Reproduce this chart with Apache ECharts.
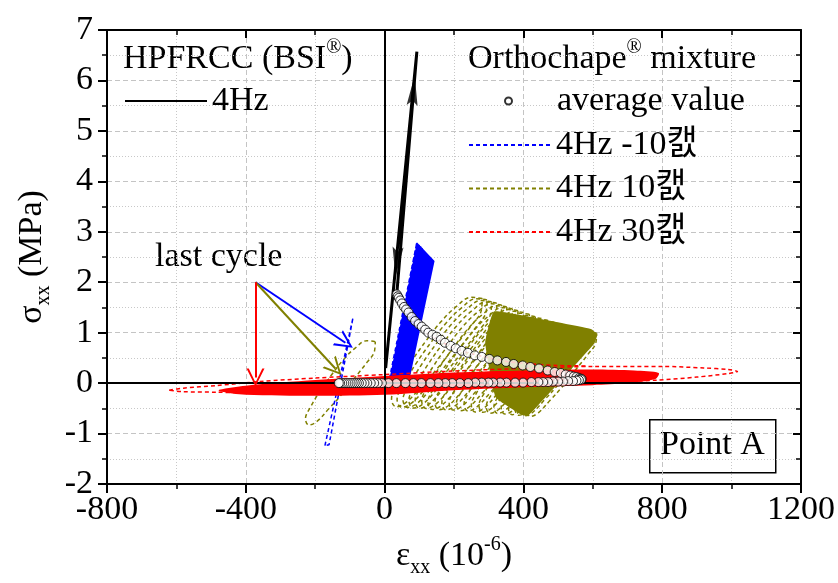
<!DOCTYPE html>
<html>
<head>
<meta charset="utf-8">
<script src="https://cdn.jsdelivr.net/npm/echarts@6/dist/echarts.min.js"></script>
<style>html,body{margin:0;padding:0;background:#fff}#main{width:838px;height:583px}</style>
</head>
<body>
<div id="main"></div>
<script>
// strain in 1e-6, stress in MPa
var FONT = "'Liberation Serif', 'Times New Roman', 'Noto Sans CJK KR', serif";
var BLUE = '#0000ff', OLIVE = '#808000', RED = '#ff0000';

// HPFRCC 4Hz (load up, unload back)
var hpEps = [3, 93, 35];
var hpSig = [0.30, 6.57, 1.76];

// average values: upper branch then lower branch
var avgUpEps = [35, 38, 41, 45, 50, 56, 62, 69, 78, 88, 98, 107, 117, 126, 138, 150, 162, 174, 190, 205, 222, 240, 260, 280, 302, 325, 350, 372, 398, 420, 445, 470, 490, 508, 522, 535, 545, 553, 560, 565, 568];
var avgUpSig = [1.76, 1.72, 1.69, 1.64, 1.58, 1.51, 1.46, 1.40, 1.31, 1.23, 1.17, 1.12, 1.06, 1.00, 0.96, 0.92, 0.86, 0.80, 0.74, 0.69, 0.64, 0.60, 0.55, 0.52, 0.48, 0.45, 0.42, 0.38, 0.35, 0.32, 0.29, 0.25, 0.22, 0.20, 0.17, 0.15, 0.13, 0.12, 0.10, 0.09, 0.08];
var avgLowEps = [566, 560, 553, 543, 529, 514, 500, 485, 471, 457, 443, 423, 399, 376, 351, 333, 313, 299, 280, 261, 241, 217, 195, 175, 155, 132, 106, 83, 60, 34, 11, -8, -20, -30, -40, -50, -58, -66, -74, -80, -86, -92, -98, -104, -110, -116, -122, -128, -132];
var avgLowSig = [0.07, 0.06, 0.05, 0.04, 0.04, 0.03, 0.03, 0.03, 0.02, 0.02, 0.02, 0.02, 0.01, 0.01, 0.01, 0.01, 0.01, 0.01, 0.01, 0.01, 0.0, 0.0, 0.0, 0.0, 0.0, 0.0, 0.0, 0.0, 0.0, 0.0, 0.0, 0.0, 0.0, 0.0, 0.0, 0.0, 0.0, 0.0, 0.0, 0.0, 0.0, 0.0, 0.0, 0.0, 0.0, 0.0, 0.0, 0.0, 0.0];

// -10C : dense band outline, first thin loops (bottom eps, top eps, top sig), last cycle
var blueBandEps = [10, 93, 144, 68];
var blueBandSig = [-0.05, 2.79, 2.42, -0.05];
var blueLoopBotEps = [10, 13, 17, 21, 25];
var blueLoopTopEps = [93, 96, 100, 104, 108];
var blueLoopTopSig = [2.79, 2.77, 2.74, 2.71, 2.68];
var blueLastEps = [-172, -91, -86, -160, -172];
var blueLastSig = [-1.24, 1.30, 1.28, -1.22, -1.24];

// 10C : last cycle ellipse, earlier cycles (centre eps, centre sig, size), dense band outline
var olivLastEps = [-27, -51, -84, -118, -151, -185, -214, -228, -218, -195, -161, -127, -89, -51, -29, -27];
var olivLastSig = [0.82, 0.84, 0.70, 0.47, 0.18, -0.15, -0.48, -0.71, -0.83, -0.76, -0.51, -0.25, 0.08, 0.41, 0.64, 0.82];
var olivCycEps = [150, 165, 180, 196, 212, 229, 246, 264, 282, 301, 320, 340, 360, 380, 400, 420, 440, 460, 478, 495, 510];
var olivCycSig = [0.61, 0.59, 0.57, 0.55, 0.53, 0.51, 0.48, 0.46, 0.44, 0.42, 0.39, 0.37, 0.34, 0.32, 0.29, 0.27, 0.25, 0.23, 0.21, 0.19, 0.17];
var olivCycSize = [1.30, 1.29, 1.27, 1.26, 1.24, 1.22, 1.21, 1.19, 1.17, 1.15, 1.13, 1.11, 1.10, 1.08, 1.07, 1.05, 1.04, 1.03, 1.02, 1.01, 1.00];
var olivBandEps = [315, 450, 596, 613, 604, 414, 395, 320, 290];
var olivBandSig = [1.42, 1.27, 1.07, 0.96, 0.78, -0.65, -0.63, -0.28, 0.80];

// 30C : dense band outline, outer (last) ellipse, first loading path
var redBandEps = [-477, -400, -200, 0, 200, 400, 600, 720, 790, 780, 700, 600, 400, 200, 0, -200, -400, -477];
var redBandSig = [-0.13, -0.05, 0.06, 0.14, 0.21, 0.25, 0.27, 0.25, 0.20, 0.08, 0.00, -0.04, -0.08, -0.14, -0.23, -0.25, -0.23, -0.16];
var redOuterEps = [-621, -580, -486, -362, -200, 0, 200, 400, 600, 800, 920, 990, 1017, 990, 900, 787, 600, 400, 200, 0, -200, -400, -486, -582, -621];
var redOuterSig = [-0.14, -0.10, -0.05, 0.03, 0.10, 0.17, 0.24, 0.29, 0.33, 0.33, 0.30, 0.27, 0.23, 0.19, 0.12, 0.06, 0.00, -0.06, -0.11, -0.15, -0.18, -0.19, -0.18, -0.17, -0.14];
var redFirstEps = [120, 150, 213, 294, 352, 420, 500, 580];
var redFirstSig = [1.00, 0.87, 0.66, 0.51, 0.43, 0.38, 0.35, 0.34];

// "last cycle" arrows: start point and the three ends
var lastFrom = [-372, 2.0];
var lastToBlue = [-113, 0.80];
var lastToOlive = [-142, 0.29];
var lastToRed = [-372, 0.11];

function pairs(xs, ys) {
  return xs.map(function (x, i) { return [x, ys[i]]; });
}

var DASH = [4, 3];
function loop(name, data, color, z, smooth) {
  return {
    name: name, type: 'line', data: data, z: z, smooth: smooth || 0,
    showSymbol: false, symbol: 'none', silent: true, animation: false,
    lineStyle: { color: color, width: 1.5, type: DASH }, itemStyle: { color: color }
  };
}
function band(eps, sig, color, z, smooth) {
  var pts = pairs(eps, sig);
  return {
    type: 'custom', z: z, silent: true, animation: false,
    data: [[0, 0]],
    renderItem: function (params, api) {
      return {
        type: 'polygon',
        shape: { points: pts.map(function (p) { return api.coord(p); }), smooth: smooth || 0 },
        style: { fill: color }
      };
    }
  };
}

var series = [];

// zero lines
series.push({
  type: 'line', data: [], z: 1, silent: true,
  markLine: {
    silent: true, symbol: 'none', animation: false, label: { show: false },
    lineStyle: { color: '#000', width: 2, type: 'solid' },
    data: [{ xAxis: 0 }, { yAxis: 0 }]
  }
});

// 10C
var olivCentre = [-128, 0.0];
olivCycEps.forEach(function (ce, k) {
  var s = olivCycSize[k];
  var d = olivLastEps.map(function (e, i) {
    return [ce + (e - olivCentre[0]) * s, olivCycSig[k] + (olivLastSig[i] - olivCentre[1]) * s];
  });
  series.push(loop('4Hz 10캜', d, OLIVE, 2, 0.4));
});
series.push(band(olivBandEps, olivBandSig, OLIVE, 2, 0.1));
series.push(loop('4Hz 10캜', pairs(olivLastEps, olivLastSig), OLIVE, 2, 0.4));

// -10C
series.push(band(blueBandEps, blueBandSig, BLUE, 3, 0));
blueLoopBotEps.forEach(function (b, k) {
  series.push(loop('4Hz -10캜', [[b, -0.05], [blueLoopTopEps[k], blueLoopTopSig[k]], [blueLoopTopEps[k] + 3, blueLoopTopSig[k] - 0.03], [b + 5, -0.05]], BLUE, 3));
});
series.push(loop('4Hz -10캜', pairs(blueLastEps, blueLastSig), BLUE, 3));

// 30C
series.push(band(redBandEps, redBandSig, RED, 4, 0.3));
series.push(loop('4Hz 30캜', pairs(redOuterEps, redOuterSig), RED, 4, 0.3));
series.push(loop('4Hz 30캜', pairs(redFirstEps, redFirstSig), RED, 4, 0.3));

// HPFRCC
series.push({
  name: '4Hz', type: 'line', data: pairs(hpEps, hpSig), z: 6, silent: true,
  showSymbol: false, symbol: 'none', animation: false,
  lineStyle: { color: '#000', width: 3 }, itemStyle: { color: '#000' }
});
// arrow heads on the HPFRCC line
series.push({
  type: 'scatter', z: 6, silent: true, animation: false,
  symbol: 'path://M5,0 L10,30 L5,25 L0,30 Z', symbolSize: [11, 30],
  itemStyle: { color: '#000' },
  data: [
    { value: [83, 5.8], symbolRotate: -5 },
    { value: [35, 2.4], symbolRotate: 175 }
  ]
});

// average value
series.push({
  name: 'average value', type: 'scatter', z: 7, silent: true, animation: false,
  data: pairs(avgUpEps, avgUpSig).concat(pairs(avgLowEps, avgLowSig)),
  symbol: 'circle', symbolSize: 9,
  itemStyle: { color: '#fff', borderColor: '#000', borderWidth: 1 }
});

// last cycle arrows
var chevron = 'path://M0,22 L10,0 L20,22 L17.5,22 L10,5 L2.5,22 Z';
function arrow(to, color) {
  return [{ coord: lastFrom, lineStyle: { color: color } }, { coord: to }];
}
series.push({
  type: 'line', data: [], z: 8, silent: true,
  markLine: {
    silent: true, animation: false, symbol: ['none', chevron], symbolSize: 18,
    label: { show: false },
    lineStyle: { width: 2, type: 'solid' },
    data: [arrow(lastToBlue, BLUE), arrow(lastToOlive, OLIVE), arrow(lastToRed, RED)]
  }
});

var subRich = {
  g: { fontFamily: FONT, fontSize: 34, color: '#000' },
  s: { fontFamily: FONT, fontSize: 20, color: '#000', padding: [24, 0, 0, 0] },
  p: { fontFamily: FONT, fontSize: 20, color: '#000', padding: [0, 0, 22, 0] },
  t: { fontFamily: FONT, fontSize: 34, color: '#000' }
};
var gridLine = { show: true, lineStyle: { color: '#c4c4c4', type: [5, 3], width: 1 } };
var minorGrid = { show: true, lineStyle: { color: '#c8c8c8', type: [1, 2], width: 1 } };
var legendText = { fontFamily: FONT, fontSize: 34, color: '#000', lineHeight: 34 };

var option = {
  backgroundColor: '#fff',
  animation: false,
  grid: { left: 107, right: 35, top: 30, bottom: 98 },
  xAxis: [{
    type: 'value', min: -800, max: 1200, interval: 400,
    name: '{g|ε}{s|xx}{t| (10}{p|-6}{t|)}', nameLocation: 'middle', nameGap: 50,
    nameTextStyle: { rich: subRich },
    axisLine: { show: true, onZero: false, lineStyle: { color: '#000', width: 2 } },
    axisTick: { show: true, inside: false, length: 9, lineStyle: { color: '#000', width: 2 } },
    minorTick: { show: true, splitNumber: 2, length: 5, lineStyle: { color: '#000', width: 1.5 } },
    axisLabel: { fontFamily: FONT, fontSize: 34, color: '#000', margin: 9, formatter: function (v) { return String(v); } },
    splitLine: gridLine, minorSplitLine: minorGrid
  }, {
    type: 'value', position: 'top', min: -800, max: 1200, interval: 400,
    axisLine: { show: true, onZero: false, lineStyle: { color: '#000', width: 2 } },
    axisTick: { show: true, inside: true, length: 8, lineStyle: { color: '#000', width: 2 } },
    minorTick: { show: true, splitNumber: 2, length: 5, lineStyle: { color: '#000', width: 1.5 } },
    axisLabel: { show: false }, splitLine: { show: false }
  }],
  yAxis: [{
    type: 'value', min: -2, max: 7, interval: 1,
    name: '{g|σ}{s|xx}{t| (MPa)}', nameLocation: 'middle', nameGap: 50, nameRotate: 90,
    nameTextStyle: { rich: subRich },
    axisLine: { show: true, onZero: false, lineStyle: { color: '#000', width: 2 } },
    axisTick: { show: true, inside: false, length: 9, lineStyle: { color: '#000', width: 2 } },
    minorTick: { show: true, splitNumber: 2, length: 5, lineStyle: { color: '#000', width: 1.5 } },
    axisLabel: { fontFamily: FONT, fontSize: 34, color: '#000', margin: 14 },
    splitLine: gridLine, minorSplitLine: minorGrid
  }, {
    type: 'value', position: 'right', min: -2, max: 7, interval: 1,
    axisLine: { show: true, onZero: false, lineStyle: { color: '#000', width: 2 } },
    axisTick: { show: true, inside: true, length: 8, lineStyle: { color: '#000', width: 2 } },
    minorTick: { show: true, splitNumber: 2, length: 5, lineStyle: { color: '#000', width: 1.5 } },
    axisLabel: { show: false }, splitLine: { show: false }
  }],
  legend: [{
    data: ['4Hz'], left: 119, top: 79, itemWidth: 82, itemHeight: 14, selectedMode: false,
    itemStyle: { opacity: 0 }, textStyle: legendText
  }, {
    data: ['average value'], left: 499, top: 79, itemWidth: 7, itemHeight: 7, selectedMode: false,
    textStyle: { fontFamily: FONT, fontSize: 34, color: '#000', lineHeight: 34, padding: [0, 0, 0, 40] }
  }, {
    data: ['4Hz -10캜', '4Hz 10캜', '4Hz 30캜'], orient: 'vertical', left: 463, top: 123,
    itemWidth: 82, itemHeight: 14, itemGap: 9.5, selectedMode: false,
    itemStyle: { opacity: 0 }, textStyle: legendText
  }],
  graphic: [
    { type: 'text', left: 123, top: 38, silent: true,
      style: { text: '{t|HPFRCC (BSI}{p|®}{t|)}', rich: subRich } },
    { type: 'text', left: 468, top: 38, silent: true,
      style: { text: '{t|Orthochape}{p|®}{t| mixture}', rich: subRich } },
    { type: 'text', left: 155, top: 240, silent: true,
      style: { text: 'last cycle', font: "34px 'Liberation Serif', serif", fill: '#000' } },
    { type: 'rect', left: 649, top: 419, silent: true,
      shape: { width: 126, height: 53 }, style: { fill: '#fff', stroke: '#000', lineWidth: 1.5 } },
    { type: 'text', left: 660, top: 428, silent: true,
      style: { text: 'Point A', font: "34px 'Liberation Serif', serif", fill: '#000' } }
  ],
  series: series
};

var chart = echarts.init(document.getElementById('main'), null, { renderer: 'canvas' });
chart.setOption(option);
</script>
</body>
</html>
